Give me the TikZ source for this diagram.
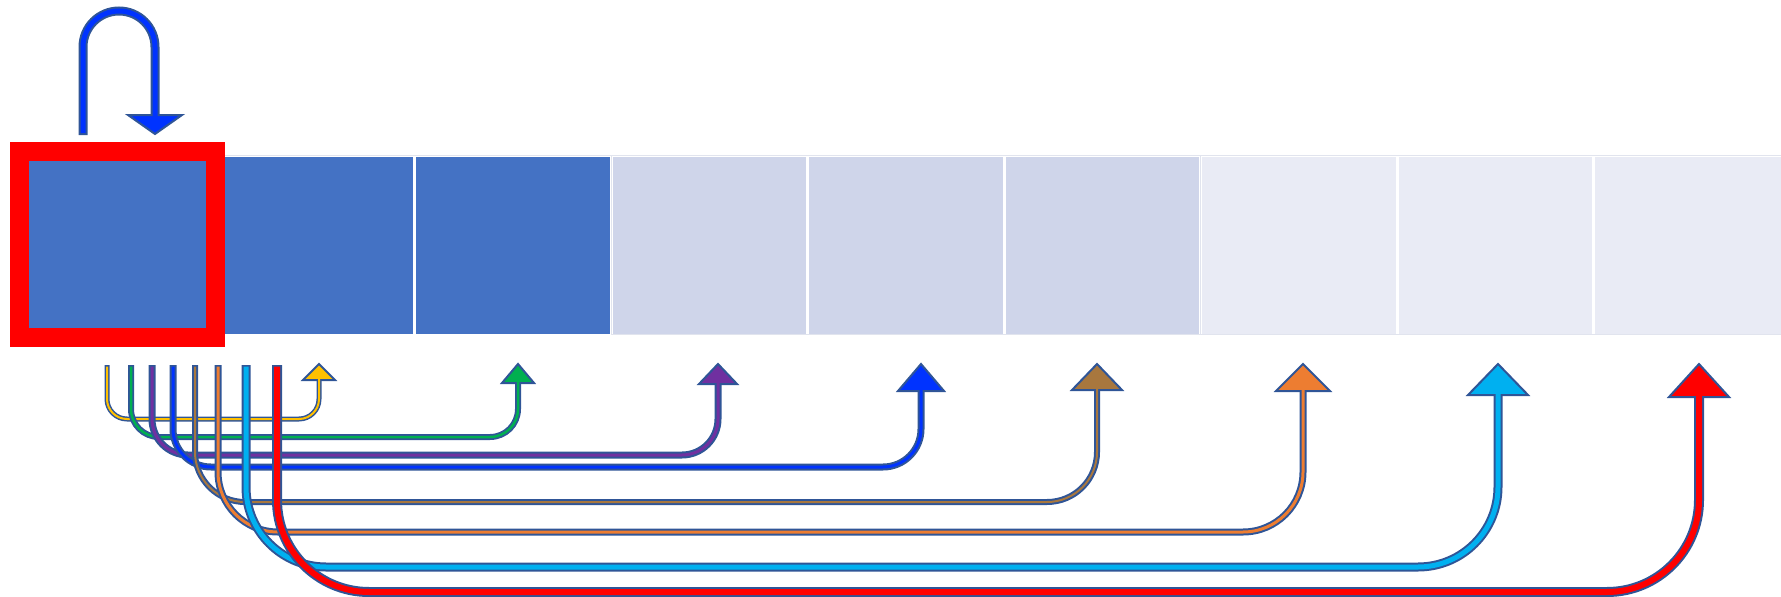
\documentclass[tikz,border=0pt]{standalone}
\usepackage{tikz}

\definecolor{cellDark}{HTML}{4472C4}
\definecolor{cellMid}{HTML}{CFD5EA}
\definecolor{cellLight}{HTML}{E9EBF5}
\definecolor{cellFrame}{HTML}{E1E4EE}
\definecolor{markRed}{HTML}{FF0000}
\definecolor{arrowLine}{HTML}{2F5597}
\definecolor{arrYellow}{HTML}{FFC000}
\definecolor{arrGreen}{HTML}{00B050}
\definecolor{arrPurple}{HTML}{7030A0}
\definecolor{arrBlue}{HTML}{0033FF}
\definecolor{arrBrown}{HTML}{A8773E}
\definecolor{arrOrange}{HTML}{ED7D31}
\definecolor{arrCyan}{HTML}{00B0F0}
\definecolor{arrRed}{HTML}{FF0000}

\begin{document}
\begin{tikzpicture}[x=1pt,y=-1pt,%%
  cellStyle/.style={rectangle,inner sep=0pt,minimum width=196.5pt,minimum height=180pt,draw=white,line width=3pt},%%
  frameStyle/.style={draw=cellFrame,line width=1pt},%%
  markStyle/.style={draw=markRed,line width=19pt,fill=cellDark},%%
  shaftStyle/.style={draw=arrowLine,line cap=butt},%%
  headStyle/.style={draw=arrowLine,line width=2pt,line join=miter}
]
\useasboundingbox (0,0) rectangle (1781,597);
%%
%%
%% The row of cells.
\foreach \i/\fillCol in {0/cellDark,1/cellDark,2/cellDark,3/cellMid,4/cellMid,5/cellMid,%%
                          6/cellLight,7/cellLight,8/cellLight}{
  \pgfmathsetmacro{\cx}{119.75+196.5*\i}
  \node[cellStyle,fill=\fillCol] (c\i) at (\cx,245.5) {};
}
\draw[frameStyle] ([shift={(1.5,1.5)}]c3.north west) rectangle ([shift={(-1.5,-2.5)}]c5.south east);
\draw[frameStyle] ([shift={(1.5,1.5)}]c6.north west) rectangle ([shift={(1,-2.5)}]c8.south east);
\draw[frameStyle] ([shift={(1.5,1.5)}]c1.north west) -- ([shift={(-1.5,1.5)}]c2.north east);
%% Mark the first cell.
\draw[markStyle] (19.5,151.5) rectangle (215.5,337.5);
%%
%%
%% The loop back onto the marked cell.
\coordinate (loopS) at (83,135);
\coordinate (loopTop) at (155,11);
\coordinate (loopH) at (155,115);
\coordinate (loopP) at (155,134);
\draw[shaftStyle,line width=9,rounded corners=36] (loopS) |- (loopTop) -- (loopH);
\filldraw[headStyle,fill=arrBlue] ([xshift=-27]loopH) -- (loopP) -- ([xshift=27]loopH) -- cycle;
\draw[arrBlue,line width=5,rounded corners=36,shorten <=2] (loopS) |- (loopTop) -- ([yshift=-1]loopH);
%%
%%
%% The jumps to the later cells.
\foreach \col/\xs/\xt/\yh/\rad/\wo/\wi/\yb/\hw [count=\i] in {%%
    arrYellow/107/319/419/20/5/2/380/16,
    arrGreen/131/518/437/28/6/2.5/383/16,
    arrPurple/152/718/455/36/7/3/384/19,
    arrBlue/173/921/467/38/7/3/391/23,
    arrBrown/195/1097/502/50/6/2/390/25,
    arrOrange/218/1303/532/60/7/3/391/27,
    arrCyan/246/1498/567/80/9/5/395/30,
    arrRed/277/1699/592/92/10/6/397/30}{
  \coordinate (s\i) at (\xs,365);
  \coordinate (b\i) at (\xt,\yh);
  \coordinate (h\i) at (\xt,\yb);
  \coordinate (p\i) at (\xt,364);
  %% Outline, head, then the coloured core.
  \draw[shaftStyle,line width=\wo,rounded corners=\rad] (s\i) |- (b\i) -- (h\i);
  \filldraw[headStyle,fill=\col] ([xshift=-\hw]h\i) -- (p\i) -- ([xshift=\hw]h\i) -- cycle;
  \draw[\col,line width=\wi,rounded corners=\rad,shorten <=1.5] (s\i) |- (b\i) -- ([yshift=1.5]h\i);
}
\end{tikzpicture}
\end{document}
